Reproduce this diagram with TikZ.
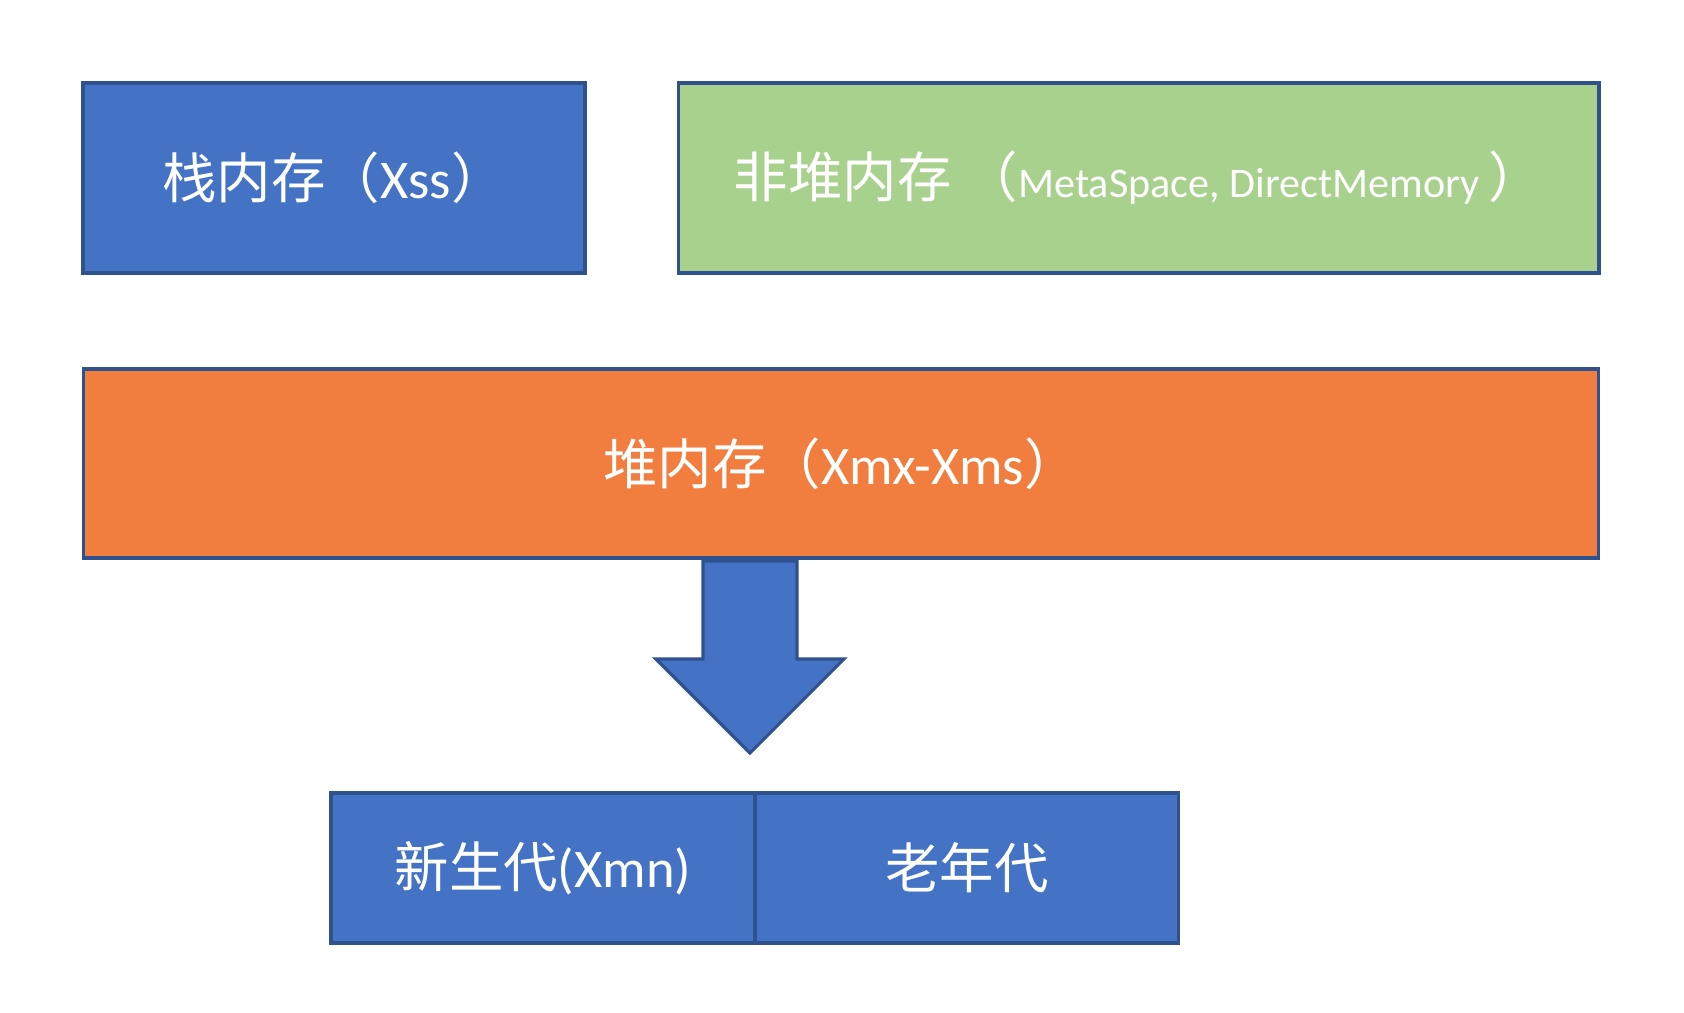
\documentclass[tikz,border=0pt]{standalone}
\usepackage{fontspec}
\setmainfont{Carlito}
\newfontfamily\cjk{Noto Sans CJK SC}
\usepackage{tikz}
\usetikzlibrary{positioning}

\definecolor{boxblue}{HTML}{4472C4}
\definecolor{edgeblue}{HTML}{2F528F}
\definecolor{boxgreen}{HTML}{A9D18E}
\definecolor{boxorange}{HTML}{F17E3F}

\begin{document}
\begin{tikzpicture}[x=0.02cm, y=-0.02cm,
  mem/.style={draw=edgeblue, line width=1.8pt, text=white, outer sep=0pt,
    inner sep=0pt, font=\fontsize{31}{35}\selectfont},
  gen/.style={mem, fill=boxblue, minimum width=8.48cm, minimum height=3cm}]
  \useasboundingbox (0,0) rectangle (1684,1012);

  \node[mem, fill=boxblue, minimum width=10.04cm, minimum height=3.8cm] (stack) at (334,178)
    {{\cjk 栈内存（}Xss{\cjk ）}};
  \node[mem, fill=boxgreen, minimum width=18.42cm, minimum height=3.8cm] (offheap) at (1138.5,178)
    {{\cjk 非堆内存 （}{\fontsize{24}{28}\selectfont MetaSpace, DirectMemory }{\cjk ）}};
  \node[mem, fill=boxorange, minimum width=30.32cm, minimum height=3.78cm] (heap) at (841,463.5)
    {{\cjk 堆内存（}Xmx-Xms{\cjk ）}};

  \node[gen] (young) at (543,868) {{\cjk 新生代}(Xmn)};
  \node[gen, right=0pt of young] (old) {\cjk 老年代};

  % block arrow down to the generations
  \coordinate (tip) at ([yshift=0.8cm, xshift=-0.1cm]young.north east);
  \draw[draw=edgeblue, fill=boxblue, line width=1.8pt, line join=miter]
    (tip) -- ++(-94,-94) -- ++(47,0) -- ++(0,-98) -- ++(94,0) -- ++(0,98) -- ++(47,0) -- cycle;
\end{tikzpicture}
\end{document}
